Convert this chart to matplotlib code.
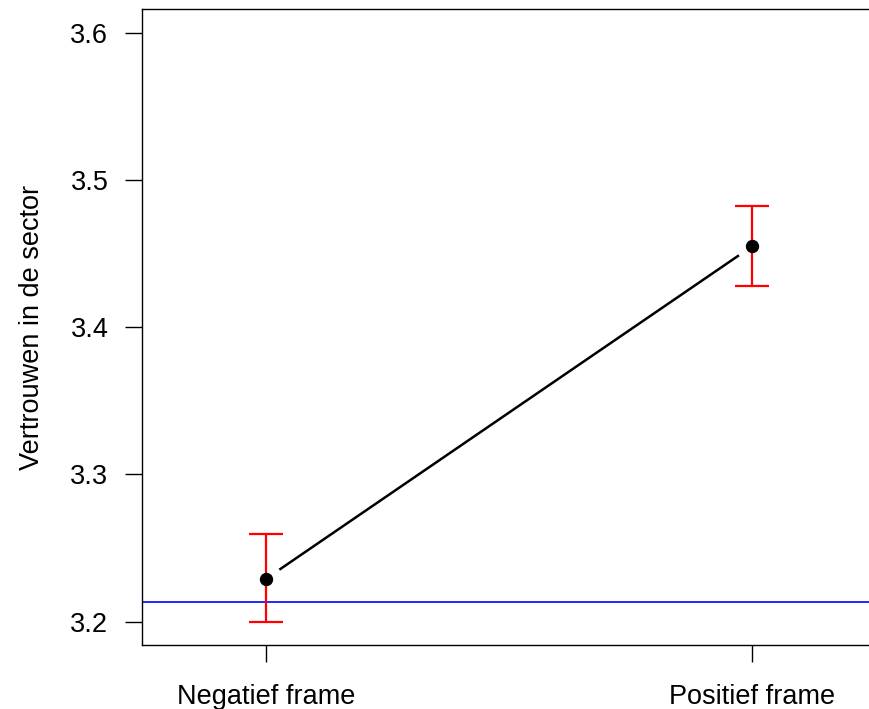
import matplotlib
matplotlib.use('Agg')
import matplotlib.pyplot as plt

plt.rcParams['font.family'] = ['Liberation Sans', 'DejaVu Sans']

groups = ['Negatief frame', 'Positief frame']
x_pos = [1, 2]
means = [3.2293, 3.4548]
lower = [3.1999, 3.4277]
upper = [3.2593, 3.4824]
reference = 3.2137
y_ticks = [3.2, 3.3, 3.4, 3.5, 3.6]

fig = plt.figure(figsize=(8.69, 7.09), dpi=100)
ax = fig.add_axes([0.1634, 0.0898, 0.8449, 0.8975])

# connecting line with gaps around the points (like R type="b")
ax.plot(x_pos, means, color='black', lw=1.8, zorder=1)
ax.plot(x_pos, means, 'o', ms=22.3, mfc='white', mec='white', zorder=2)

ax.axhline(reference, color='#0000ff', lw=1.2, zorder=2.5)

err_lo = [m - l for m, l in zip(means, lower)]
err_hi = [u - m for m, u in zip(means, upper)]
ax.errorbar(x_pos, means, yerr=[err_lo, err_hi], fmt='none', ecolor='#ff0000',
            elinewidth=1.6, capsize=12.2, capthick=1.6, zorder=3)
ax.plot(x_pos, means, 'o', color='black', ms=8.6, zorder=4)

ax.set_xlim(0.744, 2.256)
ax.set_ylim(3.184, 3.616)
ax.set_xticks(x_pos)
ax.set_xticklabels(groups)
ax.set_yticks(y_ticks)
ax.set_yticklabels([f'{v:.1f}' for v in y_ticks])
ax.spines['right'].set_visible(False)
for s in ['left', 'top', 'bottom']:
    ax.spines[s].set_linewidth(1.0)
ax.tick_params(axis='both', length=12.2, width=1.0, labelsize=19.5, color='black')
ax.tick_params(axis='x', pad=16)
ax.tick_params(axis='y', pad=12)
ax.set_ylabel('Vertrouwen in de sector', fontsize=19.5, labelpad=18.5)

fig.savefig('out.png', dpi=100)
